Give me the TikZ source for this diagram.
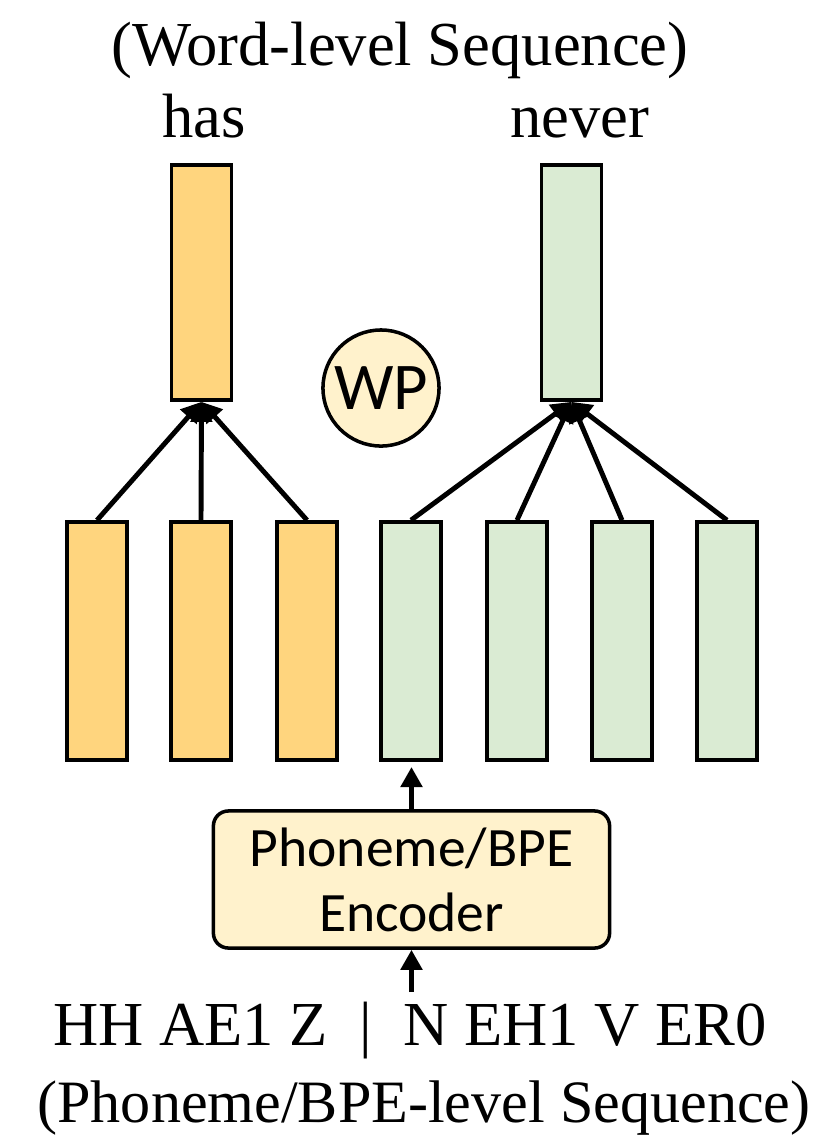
\documentclass[tikz,border=0pt]{standalone}
\usepackage{fontspec}
\setmainfont{Liberation Serif}
\newfontfamily\calibri{Carlito}
\usetikzlibrary{arrows.meta}

\definecolor{hasfill}{HTML}{FFD57E}
\definecolor{neverfill}{HTML}{DAEBD3}
\definecolor{encfill}{HTML}{FFF2CC}

\tikzset{
  vec/.style={draw, line width=1pt, minimum width=0.6cm, inner sep=0pt},
  word/.style={anchor=base, inner sep=0pt, font=\fontsize{17.8}{21}\selectfont},
  arr/.style={-{Triangle[length=0.2cm,width=0.21cm]}, line width=1.4pt},
}

\begin{document}
\begin{tikzpicture}[x=0.01cm, y=-0.01cm]
 \useasboundingbox (0,0) rectangle (821,1141);

 % word-level outputs
 \node[word] (title) at (400,65) {(Word-level Sequence)};
 \node[word] (has) at (204,137) {has};
 \node[word] (never) at (580,137) {never};
 \node[vec, fill=hasfill, minimum height=2.35cm] (hasvec) at (201.5,282.5) {};
 \node[vec, fill=neverfill, minimum height=2.35cm] (nevervec) at (571.5,282.5) {};
 \node[draw, circle, line width=1pt, fill=encfill, minimum size=1.16cm, inner sep=0pt,
   font=\calibri\fontsize{19}{21}\selectfont] (wp) at (381,388) {WP};

 % phoneme-level vectors
 \foreach \i/\x in {1/97, 2/201, 3/307}
   \node[vec, fill=hasfill, minimum height=2.38cm] (h\i) at (\x,641) {};
 \foreach \i/\x in {1/411, 2/517, 3/622, 4/727}
   \node[vec, fill=neverfill, minimum height=2.38cm] (n\i) at (\x,641) {};

 \path[arr]
  (h1.north) edge (hasvec.south)
  (h2.north) edge (hasvec.south)
  (h3.north) edge (hasvec.south)
  (n1.north) edge (nevervec.south)
  (n2.north) edge (nevervec.south)
  (n3.north) edge (nevervec.south)
  (n4.north) edge (nevervec.south);

 % encoder
 \node[draw, line width=1pt, rounded corners=0.15cm, fill=encfill,
   minimum width=3.96cm, minimum height=1.37cm, align=center,
   font=\calibri\fontsize{15.8}{18.5}\selectfont] (enc) at (411.5,879.5) {Phoneme/BPE\\Encoder};
 \coordinate (n1in) at (411.5,767);
 \coordinate (encin) at (411.5,992);
 \draw[arr] (enc.north -| n1in) -- (n1in);
 \draw[arr] (encin) -- (enc.south -| encin);

 % phoneme-level input
 \node[word] (phones) at (410,1045) {HH AE1 Z\hspace{0.5em}|\hspace{0.5em}N EH1 V ER0};
 \node[word, font=\fontsize{17.1}{21}\selectfont] (subtitle) at (424,1122) {(Phoneme/BPE-level Sequence)};
\end{tikzpicture}
\end{document}
